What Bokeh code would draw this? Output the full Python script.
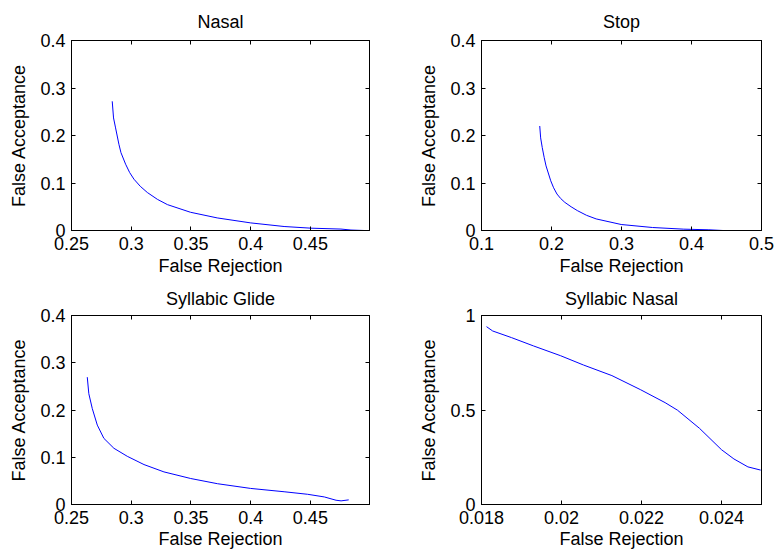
from bokeh.plotting import figure
from bokeh.layouts import row, column
from bokeh.models import Range1d, FixedTicker, LinearAxis
from bokeh.embed import file_html
from bokeh.resources import INLINE

# ---- data ----
nasal_fr = [0.2841, 0.2852, 0.2869, 0.2897, 0.2914, 0.2953, 0.2987, 0.3023, 0.3076, 0.3135,
            0.3219, 0.3303, 0.3496, 0.3720, 0.4000, 0.4280, 0.4505, 0.4756, 0.4840, 0.4952]
nasal_fa = [0.272, 0.237, 0.216, 0.1815, 0.164, 0.1396, 0.122, 0.108, 0.093, 0.080,
            0.0656, 0.0545, 0.0384, 0.0265, 0.016, 0.0084, 0.0049, 0.003, 0.001, 0.0]

stop_fr = [0.1832, 0.1845, 0.1868, 0.1895, 0.1922, 0.1989, 0.2030, 0.2078, 0.2130, 0.2190,
           0.2280, 0.2369, 0.2500, 0.2638, 0.2996, 0.3443, 0.3890, 0.4248, 0.4450]
stop_fa = [0.220, 0.195, 0.1745, 0.154, 0.136, 0.1047, 0.090, 0.0768, 0.0675, 0.0593,
           0.050, 0.0419, 0.032, 0.0244, 0.0126, 0.0063, 0.0028, 0.0015, 0.0]

glide_fr = [0.2632, 0.2645, 0.2674, 0.2716, 0.2771, 0.2855, 0.2967, 0.3107, 0.3274,
            0.3498, 0.3722, 0.4000, 0.4280, 0.4477, 0.4617, 0.4715, 0.4757, 0.4821]
glide_fa = [0.2695, 0.2345, 0.203, 0.168, 0.140, 0.119, 0.102, 0.0845, 0.069,
            0.055, 0.044, 0.034, 0.027, 0.0216, 0.016, 0.009, 0.0077, 0.0098]

synasal_fr = [0.018125, 0.01828, 0.01875, 0.0193, 0.01998, 0.02055, 0.02126, 0.02198,
              0.02259, 0.0229, 0.02345, 0.0240, 0.02431, 0.02466, 0.02498]
synasal_fa = [0.941, 0.918, 0.883, 0.839, 0.787, 0.738, 0.682, 0.607,
              0.539, 0.499, 0.403, 0.290, 0.241, 0.199, 0.182]

titles = ["Nasal", "Stop", "Syllabic Glide", "Syllabic Nasal"]
x_title = "False Rejection"
y_title = "False Acceptance"

x_ticks_a = [0.25, 0.3, 0.35, 0.4, 0.45]
x_labels_a = ["0.25", "0.3", "0.35", "0.4", "0.45"]
x_ticks_b = [0.1, 0.2, 0.3, 0.4, 0.5]
x_labels_b = ["0.1", "0.2", "0.3", "0.4", "0.5"]
x_ticks_c = [0.018, 0.02, 0.022, 0.024]
x_labels_c = ["0.018", "0.02", "0.022", "0.024"]
y_ticks_a = [0, 0.1, 0.2, 0.3, 0.4]
y_labels_a = ["0", "0.1", "0.2", "0.3", "0.4"]
y_ticks_b = [0, 0.5, 1]
y_labels_b = ["0", "0.5", "1"]

FONT = "Liberation Sans"
FS = "18px"


def style_axis(ax, ticks, labels, label_text, show_labels, tick_standoff, label_standoff):
    ax.ticker = FixedTicker(ticks=ticks)
    ax.major_tick_in = 4
    ax.major_tick_out = 0
    ax.minor_tick_in = 0
    ax.minor_tick_out = 0
    ax.axis_line_color = "black"
    ax.major_tick_line_color = "black"
    ax.axis_line_width = 1
    if show_labels:
        ax.major_label_overrides = {t: l for t, l in zip(ticks, labels)}
        ax.major_label_text_font = FONT
        ax.major_label_text_font_size = FS
        ax.major_label_text_color = "black"
        ax.major_label_standoff = tick_standoff
        ax.axis_label = label_text
        ax.axis_label_text_font = FONT
        ax.axis_label_text_font_size = FS
        ax.axis_label_text_font_style = "normal"
        ax.axis_label_text_color = "black"
        ax.axis_label_standoff = label_standoff
    else:
        ax.major_label_text_font_size = "0px"
        ax.major_label_text_color = None
        ax.major_label_standoff = 0
        ax.axis_label = None


def make(title, xs, ys, xr, yr, xt, xl, yt, yl, w, h, mbl, mbr, mbt, mbb,
         title_standoff, x_tick_standoff, x_label_standoff):
    p = figure(width=w, height=h, output_backend="svg", toolbar_location=None,
               x_range=Range1d(*xr), y_range=Range1d(*yr),
               min_border_left=mbl, min_border_right=mbr,
               min_border_top=mbt, min_border_bottom=mbb)
    p.line(xs, ys, line_color="#0000ff", line_width=1)
    p.xgrid.visible = False
    p.ygrid.visible = False
    p.outline_line_color = "black"
    p.outline_line_width = 1
    p.background_fill_color = "white"
    p.border_fill_color = "white"
    p.title.text = title
    p.title.align = "center"
    p.title.text_font = FONT
    p.title.text_font_size = FS
    p.title.text_font_style = "normal"
    p.title.text_color = "black"
    p.title.standoff = title_standoff
    style_axis(p.xaxis[0], xt, xl, x_title, True, x_tick_standoff, x_label_standoff)
    style_axis(p.yaxis[0], yt, yl, y_title, True, 6, 8)
    top = LinearAxis()
    style_axis(top, xt, xl, None, False, 0, 0)
    p.add_layout(top, "above")
    right = LinearAxis()
    style_axis(right, yt, yl, None, False, 0, 0)
    p.add_layout(right, "right")
    return p


# left column: frame x 71..369 ; right column: frame x 463..761
# top row: frame y 39..230 ; bottom row: frame y ~313..503
p1 = make(titles[0], nasal_fr, nasal_fa, (0.25, 0.4995), (0, 0.4),
          x_ticks_a, x_labels_a, y_ticks_a, y_labels_a,
          416, 279, 71, 47, 39, 49, 18, 6, 3)
p2 = make(titles[1], stop_fr, stop_fa, (0.1, 0.5), (0, 0.4),
          x_ticks_b, x_labels_b, y_ticks_a, y_labels_a,
          359, 279, 47, 14, 39, 49, 18, 6, 3)
p3 = make(titles[2], glide_fr, glide_fa, (0.25, 0.4995), (0, 0.4),
          x_ticks_a, x_labels_a, y_ticks_a, y_labels_a,
          416, 273, 71, 47, 34, 48, 14, 6, 2)
p4 = make(titles[3], synasal_fr, synasal_fa, (0.018, 0.025), (0, 1),
          x_ticks_c, x_labels_c, y_ticks_b, y_labels_b,
          359, 273, 47, 14, 34, 48, 14, 6, 2)

layout = column(row(p1, p2), row(p3, p4))
open("out.html", "w").write(file_html(layout, INLINE))
